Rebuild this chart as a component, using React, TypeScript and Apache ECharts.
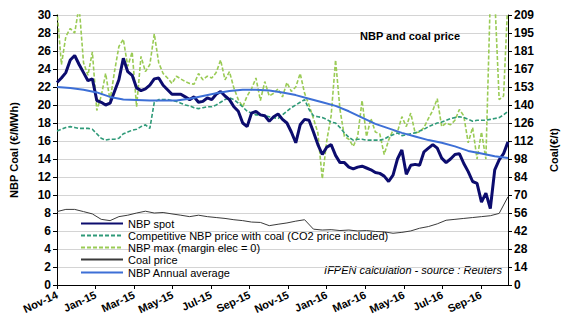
import React, { useEffect, useRef } from "react";
import * as echarts from "echarts";

// Dates: day index counted from 1 Nov 2014
const START_UTC = Date.UTC(2014, 10, 1);
const DAY_MS = 86400000;
const MONTHS = ["Jan", "Feb", "Mar", "Apr", "May", "Jun", "Jul", "Aug", "Sep", "Oct", "Nov", "Dec"];

const SPOT_STEP = 7; // days between points
const nbpSpot = [
  22.5, 23.0, 23.6, 25.0, 25.5, 24.5, 23.6, 22.7, 22.9, 20.5,
  20.3, 20.0, 20.2, 21.5, 22.8, 25.2, 23.7, 23.3, 21.9, 21.6,
  21.8, 22.2, 22.9, 23.0, 22.2, 21.7, 21.2, 21.2, 21.2, 20.9,
  20.6, 20.9, 20.3, 20.4, 20.8, 20.6, 21.2, 21.5, 21.0, 20.6,
  19.8, 19.3, 18.0, 17.6, 19.1, 19.3, 18.9, 18.8, 18.2, 18.7,
  19.0, 18.4, 18.0, 17.0, 15.8, 17.8, 18.4, 18.3, 17.0, 15.6,
  14.5, 15.3, 15.6, 14.4, 13.6, 13.6, 13.1, 12.9, 13.1, 13.2,
  13.0, 12.8, 12.5, 12.4, 12.1, 11.5, 12.2, 14.0, 15.0, 12.3,
  13.3, 13.4, 13.3, 14.8, 15.2, 15.6, 15.2, 14.1, 13.6, 14.0,
  14.5, 14.6, 13.5, 12.6, 11.5, 11.3, 9.2, 10.2, 8.5, 12.8,
  13.9, 14.6, 15.9,
];

const COMP_STEP = 7;
const competitiveNbp = [
  17.1, 17.3, 17.5, 17.6, 17.5, 17.4, 17.4, 17.4, 17.3, 16.8,
  16.3, 16.1, 16.2, 16.2, 16.3, 16.8, 17.0, 17.2, 17.3, 17.6,
  17.8, 17.4, 20.3, 20.6, 20.6, 20.6, 20.5, 20.4, 20.2, 20.0,
  19.9, 19.7, 19.6, 19.7, 19.8, 19.8, 20.0, 20.3, 20.6, 20.8,
  20.6, 20.2, 19.8, 19.3, 19.1, 18.9, 18.9, 18.8, 18.7, 18.6,
  18.5, 18.9, 19.3, 19.7, 20.0, 20.3, 20.6, 19.5, 18.8, 18.7,
  18.6, 18.4, 18.1, 18.0, 17.5, 16.9, 16.4, 16.1, 16.2, 16.2,
  16.1, 16.1, 16.1, 16.1, 16.2, 16.5, 16.7, 16.9, 16.6, 16.7,
  16.8, 16.9, 17.1, 17.3, 17.6, 17.8, 18.0, 18.1, 18.3, 18.5,
  18.6, 18.7, 18.6, 18.4, 18.2, 18.3, 18.3, 18.3, 18.4, 18.5,
  18.6, 18.9, 19.3,
];

const MAX_STEP = 7;
const nbpMax = [
  30.5, 24.5, 27.6, 28.5, 28.0, 31.0, 24.7, 23.3, 25.9, 19.4,
  21.0, 23.5, 20.5, 23.7, 26.5, 27.3, 24.3, 25.9, 19.8, 25.4,
  23.7, 24.5, 27.9, 24.7, 23.5, 23.0, 22.4, 23.2, 22.9, 22.6,
  22.4, 22.3, 23.5, 22.8, 23.2, 23.0, 23.6, 25.0, 22.8, 23.7,
  21.9, 20.6, 19.8, 21.0, 21.8, 23.0, 20.5, 22.6, 21.0, 21.3,
  21.8, 20.9, 22.5, 21.5, 22.0, 23.5, 21.3, 20.0, 18.5, 16.9,
  11.8, 16.0, 18.8, 25.0, 19.5, 16.5, 16.2, 15.4, 16.5, 20.5,
  16.5, 18.5, 17.0, 16.8, 14.5, 16.1, 17.2, 17.0, 18.7, 17.6,
  19.1, 16.9, 17.0, 17.5, 18.5, 19.4, 20.7, 17.6, 18.0, 17.8,
  18.3, 19.5, 18.8, 15.8, 17.5, 14.0, 17.0, 14.0, 32.0, 32.0,
  20.6, 21.0, 32.0,
];

const COAL_STEP = 14;
const coalPrice = [
  56.9, 58.6, 58.6, 56.9, 55.1, 50.9, 49.9, 53.0, 54.1, 55.8,
  57.2, 55.8, 56.2, 55.1, 54.1, 53.0, 54.1, 53.0, 52.3, 51.6,
  50.6, 49.9, 48.8, 48.5, 46.0, 47.1, 48.1, 49.5, 50.6, 43.3,
  42.6, 42.9, 42.2, 42.6, 41.9, 42.2, 41.5, 41.2, 40.1, 40.8,
  41.9, 44.0, 45.3, 47.4, 50.2, 50.9, 51.6, 52.3, 53.0, 53.7,
  55.5, 68.4,
];

const AVG_STEP = 21;
const nbpAnnualAvg = [
  22.0, 21.9, 21.7, 21.4, 20.9, 20.6, 20.55, 20.5, 20.5, 20.5,
  20.7, 21.0, 21.3, 21.55, 21.7, 21.7, 21.6, 21.4, 21.1, 20.7,
  20.3, 19.9, 19.3, 18.6, 17.9, 17.4, 16.9, 16.5, 16.1, 15.8,
  15.4, 14.9, 14.6, 14.3, 14.1,
];

const X_MAX_DAY = 714;
const X_TICK_DAYS = 61;
const LEFT_MAX = 30;
const LEFT_INTERVAL = 2;
const RIGHT_MAX = 209.3;

const FONT = 'Arial, "Liberation Sans", sans-serif';

const toPairs = (arr: number[], step: number) => arr.map((v, i) => [i * step, v]);

const fmtDay = (v: number) => {
  const d = new Date(START_UTC + Math.round(v) * DAY_MS);
  return MONTHS[d.getUTCMonth()] + "-" + String(d.getUTCFullYear()).slice(2);
};

export default function App() {
  const ref = useRef<HTMLDivElement>(null);

  useEffect(() => {
    if (!ref.current) return;
    const chart = echarts.init(ref.current, null, { renderer: "svg" });
    const axisLabelStyle = { color: "#000", fontFamily: FONT, fontWeight: "bold" as const, fontSize: 12 };
    const legendText = { fontFamily: FONT, fontSize: 11, color: "#000", lineHeight: 9, height: 9 };
    chart.setOption({
      animation: false,
      backgroundColor: "#fff",
      title: {
        text: "NBP and coal price",
        left: 355,
        top: 25,
        textStyle: { fontFamily: FONT, fontSize: 11, fontWeight: "bold", color: "#000" },
      },
      grid: { left: 55, top: 15, width: 453, height: 270, containLabel: false },
      legend: [
        {
          orient: "vertical",
          left: 80,
          top: 218,
          itemWidth: 42,
          itemHeight: 8,
          itemGap: 1,
          padding: 0,
          itemStyle: { opacity: 0 },
          textStyle: legendText,
          data: [
            "NBP spot",
            "Competitive NBP price with coal (CO2 price included)",
            "NBP max (margin elec = 0)",
            "Coal price",
          ],
        },
        {
          orient: "vertical",
          left: 80,
          top: 267,
          itemWidth: 42,
          itemHeight: 8,
          padding: 0,
          itemStyle: { opacity: 0 },
          textStyle: legendText,
          data: ["NBP Annual average"],
        },
      ],
      xAxis: {
        type: "value",
        min: 0,
        max: X_MAX_DAY,
        interval: X_TICK_DAYS,
        splitLine: { show: false },
        axisLine: { lineStyle: { color: "#000", width: 1 } },
        axisTick: { show: true, length: 4, lineStyle: { color: "#000" } },
        axisLabel: {
          ...axisLabelStyle,
          fontSize: 11,
          rotate: 25,
          margin: 9,
          showMaxLabel: false,
          formatter: (v: number) => fmtDay(v),
        },
      },
      yAxis: [
        {
          type: "value",
          min: 0,
          max: LEFT_MAX,
          interval: LEFT_INTERVAL,
          name: "NBP Coal (€/MWh)",
          nameLocation: "middle",
          nameGap: 38,
          nameTextStyle: { fontFamily: FONT, fontSize: 11, fontWeight: "bold", color: "#000" },
          axisLine: { show: true, lineStyle: { color: "#000", width: 1 } },
          axisTick: { show: true, length: 4, lineStyle: { color: "#000" } },
          axisLabel: { ...axisLabelStyle, margin: 6 },
          splitLine: { show: true, lineStyle: { color: "#d4d4d4", width: 1 } },
        },
        {
          type: "value",
          min: 0,
          max: RIGHT_MAX,
          interval: RIGHT_MAX / 15,
          position: "right",
          name: "Coal(€/t)",
          nameLocation: "middle",
          nameGap: 40,
          nameTextStyle: { fontFamily: FONT, fontSize: 11, fontWeight: "bold", color: "#000" },
          axisLine: { show: true, lineStyle: { color: "#000", width: 1 } },
          axisTick: { show: true, length: 4, lineStyle: { color: "#000" } },
          axisLabel: { ...axisLabelStyle, margin: 6, formatter: (v: number) => String(Math.round(v)) },
          splitLine: { show: false },
        },
      ],
      series: [
        {
          name: "Coal price",
          type: "line",
          yAxisIndex: 1,
          showSymbol: false,
          symbol: "none",
          data: toPairs(coalPrice, COAL_STEP),
          lineStyle: { color: "#3a3a3a", width: 1 },
          itemStyle: { color: "#3a3a3a" },
        },
        {
          name: "NBP max (margin elec = 0)",
          type: "line",
          showSymbol: false,
          symbol: "none",
          data: toPairs(nbpMax, MAX_STEP),
          lineStyle: { color: "#9acb55", width: 1.6, type: [4, 2] },
          itemStyle: { color: "#9acb55" },
        },
        {
          name: "Competitive NBP price with coal (CO2 price included)",
          type: "line",
          showSymbol: false,
          symbol: "none",
          data: toPairs(competitiveNbp, COMP_STEP),
          lineStyle: { color: "#2f9a78", width: 1.6, type: [4, 2] },
          itemStyle: { color: "#2f9a78" },
        },
        {
          name: "NBP spot",
          type: "line",
          showSymbol: false,
          symbol: "none",
          data: toPairs(nbpSpot, SPOT_STEP),
          lineStyle: { color: "#0c0c6e", width: 3 },
          itemStyle: { color: "#0c0c6e" },
        },
        {
          name: "NBP Annual average",
          type: "line",
          showSymbol: false,
          symbol: "none",
          data: toPairs(nbpAnnualAvg, AVG_STEP),
          lineStyle: { color: "#3d6fd6", width: 2 },
          itemStyle: { color: "#3d6fd6" },
        },
      ],
      graphic: [
        {
          type: "text",
          right: 65,
          top: 264,
          style: {
            text: "IFPEN calculation - source : Reuters",
            font: "italic 11px " + FONT,
            fill: "#000",
          },
        },
      ],
    });
    return () => chart.dispose();
  }, []);

  return (
    <div
      ref={ref}
      style={{ position: "fixed", left: 0, top: 0, width: 567, height: 331, background: "#fff" }}
    />
  );
}
